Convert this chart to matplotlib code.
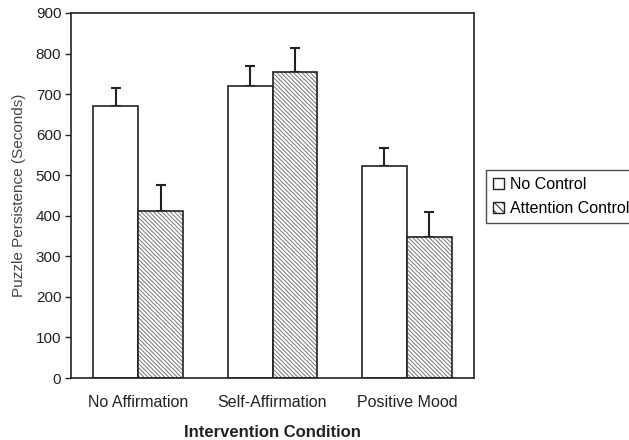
import matplotlib
matplotlib.use("Agg")
import matplotlib.pyplot as plt
import numpy as np
from matplotlib.patches import Patch

categories = ["No Affirmation", "Self-Affirmation", "Positive Mood"]
series_names = ["No Control", "Attention Control"]
no_control = [670, 720, 522]
no_control_err = [45, 50, 45]
attention = [413, 755, 348]
attention_err = [63, 59, 62]
yticks = [0, 100, 200, 300, 400, 500, 600, 700, 800, 900]

plt.rcParams['font.family'] = ['Liberation Sans', 'DejaVu Sans']
plt.rcParams['hatch.linewidth'] = 0.7

fig = plt.figure(figsize=(6.29, 4.40), dpi=100)
ax = fig.add_axes([71/629, 1-378/440, (474-71)/629, (378-13)/440])

x = np.arange(len(categories))
w = 1/3
HATCH = '\\' * 8
ax.bar(x - w/2, no_control, w, color='white', edgecolor='#222222', linewidth=1.2, zorder=2)
ax.bar(x + w/2, attention, w, color='white', edgecolor='#777777', hatch=HATCH, linewidth=0, zorder=2)
ax.bar(x + w/2, attention, w, color='none', edgecolor='#222222', linewidth=1.2, zorder=3)

ax.errorbar(x - w/2, no_control, yerr=[np.zeros(3), no_control_err], fmt='none',
            ecolor='#222222', elinewidth=1.5, capsize=3.5, capthick=1.5, zorder=1)
ax.errorbar(x + w/2, attention, yerr=[np.zeros(3), attention_err], fmt='none',
            ecolor='#222222', elinewidth=1.5, capsize=3.5, capthick=1.5, zorder=1)

ax.set_xlim(-0.5, 2.5)
ax.set_ylim(0, 900)
ax.set_yticks(yticks)
ax.set_xticks(x)
ax.set_xticklabels(categories, fontsize=11.5, color='#222222')
ax.tick_params(axis='x', length=0, pad=12)
ax.tick_params(axis='y', length=4, width=1, labelsize=11, colors='#222222', direction='out', pad=3)
for s in ax.spines.values():
    s.set_color('#222222')
    s.set_linewidth(1.2)

ax.set_ylabel("Puzzle Persistence (Seconds)", fontsize=11, color='#444444', labelpad=7)
ax.set_xlabel("Intervention Condition", fontsize=12, fontweight='bold', color='#222222', labelpad=11)

handles = [Patch(facecolor='white', edgecolor='#222222', linewidth=1.0),
           Patch(facecolor='white', edgecolor='#222222', hatch='\\' * 4, linewidth=1.0)]
leg = fig.legend(handles, series_names, loc='upper left', bbox_to_anchor=(486/629, 1-170/440),
                 bbox_transform=fig.transFigure, frameon=True, fancybox=False,
                 edgecolor='#222222', fontsize=11.5, handlelength=0.65, handleheight=0.65,
                 handletextpad=0.4, borderpad=0.45, labelspacing=0.55, borderaxespad=0)
leg.get_frame().set_linewidth(1.0)

fig.savefig("out.png", dpi=100)
